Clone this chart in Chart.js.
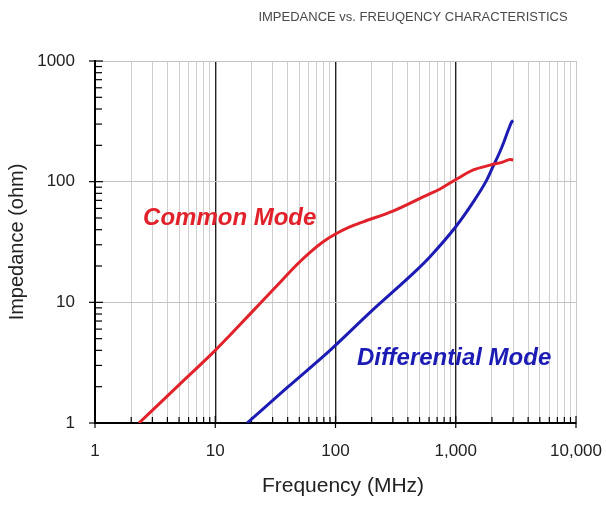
<!DOCTYPE html>
<html>
<head>
<meta charset="utf-8">
<script src="https://cdn.jsdelivr.net/npm/chart.js@4"></script>
<style>
html,body{margin:0;padding:0;background:#fff;}
canvas{display:block;}
</style>
</head>
<body>
<canvas id="c" width="606" height="507"></canvas>
<script>
// ---- data ----
const chartTitle = "IMPEDANCE vs. FREUQENCY CHARACTERISTICS";
const xAxisTitle = "Frequency (MHz)";
const yAxisTitle = "Impedance (ohm)";

const commonFreq = [2.32, 5, 10, 13.3, 25, 35, 47.6, 61.4, 79, 100, 130, 170, 300, 600, 740, 1000, 1400, 1928, 2486, 2826, 3000];
const commonImp  = [1, 2.07, 4.0, 5.36, 10.4, 14.8, 20.5, 26, 31.8, 36.8, 42, 46.5, 57, 79, 87, 104, 125, 137, 146, 153, 151];

const diffFreq = [18.4, 40, 90, 200, 473, 611, 1000, 1400, 1808, 2052, 2300, 2486, 2735, 2918, 3000];
const diffImp  = [1, 1.98, 4.0, 8.5, 18.5, 23.9, 42.3, 68, 103, 135, 172, 207, 268, 313, 322];

const xTickValues = [1, 10, 100, 1000, 10000];
const xTickLabels = ["1", "10", "100", "1,000", "10,000"];
const yTickValues = [1, 10, 100, 1000];
const yTickLabels = ["1", "10", "100", "1000"];

const seriesNames = ["Common Mode", "Differential Mode"];
const labelAnchorFreq = [2.51, 151];
const labelAnchorImp = [49.9, 3.46];

// ---- helpers ----
function logTicks(min, max) {
  const out = [];
  for (let d = min; d < max; d *= 10) {
    for (let m = 1; m < 10; m++) out.push(d * m);
  }
  out.push(max);
  return out;
}
function isDecade(v) {
  const l = Math.log10(v);
  return Math.abs(l - Math.round(l)) < 1e-9;
}
const FONT = "'Liberation Sans', Arial, sans-serif";

const seriesColors = ["#e1222a", "#1c1cb4"];

const decorPlugin = {
  id: 'decor',
  beforeDatasetsDraw(chart) {
    const ctx = chart.ctx;
    const xs = chart.scales.x, ys = chart.scales.y;
    const a = chart.chartArea;
    ctx.save();
    ctx.strokeStyle = '#000';
    ctx.lineWidth = 1.2;
    ys.ticks.forEach(t => {
      const py = ys.getPixelForValue(t.value);
      ctx.beginPath();
      if (isDecade(t.value)) { ctx.moveTo(a.left - 6, py); ctx.lineTo(a.left + 8, py); }
      else { ctx.moveTo(a.left, py); ctx.lineTo(a.left + 7, py); }
      ctx.stroke();
    });
    xs.ticks.forEach(t => {
      const px = xs.getPixelForValue(t.value);
      ctx.beginPath();
      if (isDecade(t.value)) { ctx.moveTo(px, a.bottom + 5); ctx.lineTo(px, a.bottom - 7); }
      else { ctx.moveTo(px, a.bottom); ctx.lineTo(px, a.bottom - 6); }
      ctx.stroke();
    });
    ctx.restore();
  },
  afterDatasetsDraw(chart) {
    const ctx = chart.ctx;
    const xs = chart.scales.x, ys = chart.scales.y;
    ctx.save();
    ctx.font = "italic bold 24px " + FONT;
    ctx.textBaseline = 'middle';
    ctx.textAlign = 'left';
    seriesNames.forEach((n, i) => {
      ctx.fillStyle = seriesColors[i];
      ctx.fillText(n, xs.getPixelForValue(labelAnchorFreq[i]), ys.getPixelForValue(labelAnchorImp[i]));
    });
    ctx.font = "13px " + FONT;
    ctx.fillStyle = '#4a4a4a';
    ctx.textAlign = 'center';
    ctx.fillText(chartTitle, 413, 17);
    ctx.font = "21px " + FONT;
    ctx.fillStyle = '#222';
    ctx.fillText(xAxisTitle, 343, 486);
    ctx.restore();
  }
};

const ctx = document.getElementById('c').getContext('2d');
new Chart(ctx, {
  type: 'line',
  data: {
    datasets: [
      {
        label: seriesNames[0],
        data: commonFreq.map((f, i) => ({x: f, y: commonImp[i]})),
        borderColor: seriesColors[0],
        borderWidth: 3,
        pointRadius: 0,
        cubicInterpolationMode: 'monotone',
        fill: false
      },
      {
        label: seriesNames[1],
        data: diffFreq.map((f, i) => ({x: f, y: diffImp[i]})),
        borderColor: seriesColors[1],
        borderWidth: 3,
        pointRadius: 0,
        cubicInterpolationMode: 'monotone',
        fill: false
      }
    ]
  },
  options: {
    responsive: false,
    devicePixelRatio: 1,
    animation: false,
    layout: { padding: { top: 61, right: 30, left: 0, bottom: 0 } },
    plugins: {
      legend: { display: false },
      title: { display: false },
      tooltip: { enabled: false }
    },
    scales: {
      x: {
        type: 'logarithmic',
        min: 1, max: 10000,
        afterBuildTicks(s) { s.ticks = logTicks(1, 10000).map(v => ({value: v})); },
        afterFit(s) { s.height = 84; s.paddingLeft = 0; s.paddingRight = 0; },
        border: { display: true, color: '#000', width: 2 },
        grid: {
          drawTicks: false,
          color: c => (c.tick && isDecade(c.tick.value)) ? (c.tick.value === 10000 ? '#c8c8c8' : '#222') : '#cfcfcf',
          lineWidth: c => (c.tick && isDecade(c.tick.value) && c.tick.value !== 10000) ? 1.4 : 1
        },
        ticks: {
          autoSkip: false,
          maxRotation: 0,
          padding: 18,
          color: '#222',
          font: { family: FONT, size: 17 },
          callback(v) { const i = xTickValues.indexOf(v); return i >= 0 ? xTickLabels[i] : ''; }
        },
        title: { display: false }
      },
      y: {
        type: 'logarithmic',
        min: 1, max: 1000,
        afterBuildTicks(s) { s.ticks = logTicks(1, 1000).map(v => ({value: v})); },
        afterFit(s) { s.width = 95; },
        border: { display: true, color: '#000', width: 2 },
        grid: {
          drawTicks: false,
          color: c => (c.tick && isDecade(c.tick.value)) ? '#c4c4c4' : 'rgba(0,0,0,0)',
          lineWidth: 1
        },
        ticks: {
          autoSkip: false,
          padding: 20,
          color: '#222',
          font: { family: FONT, size: 17 },
          callback(v) { const i = yTickValues.indexOf(v); return i >= 0 ? yTickLabels[i] : ''; }
        },
        title: {
          display: true,
          text: yAxisTitle,
          color: '#222',
          font: { family: FONT, size: 20 },
          padding: { top: 5, bottom: 0 }
        }
      }
    }
  },
  plugins: [decorPlugin]
});
</script>
</body>
</html>
